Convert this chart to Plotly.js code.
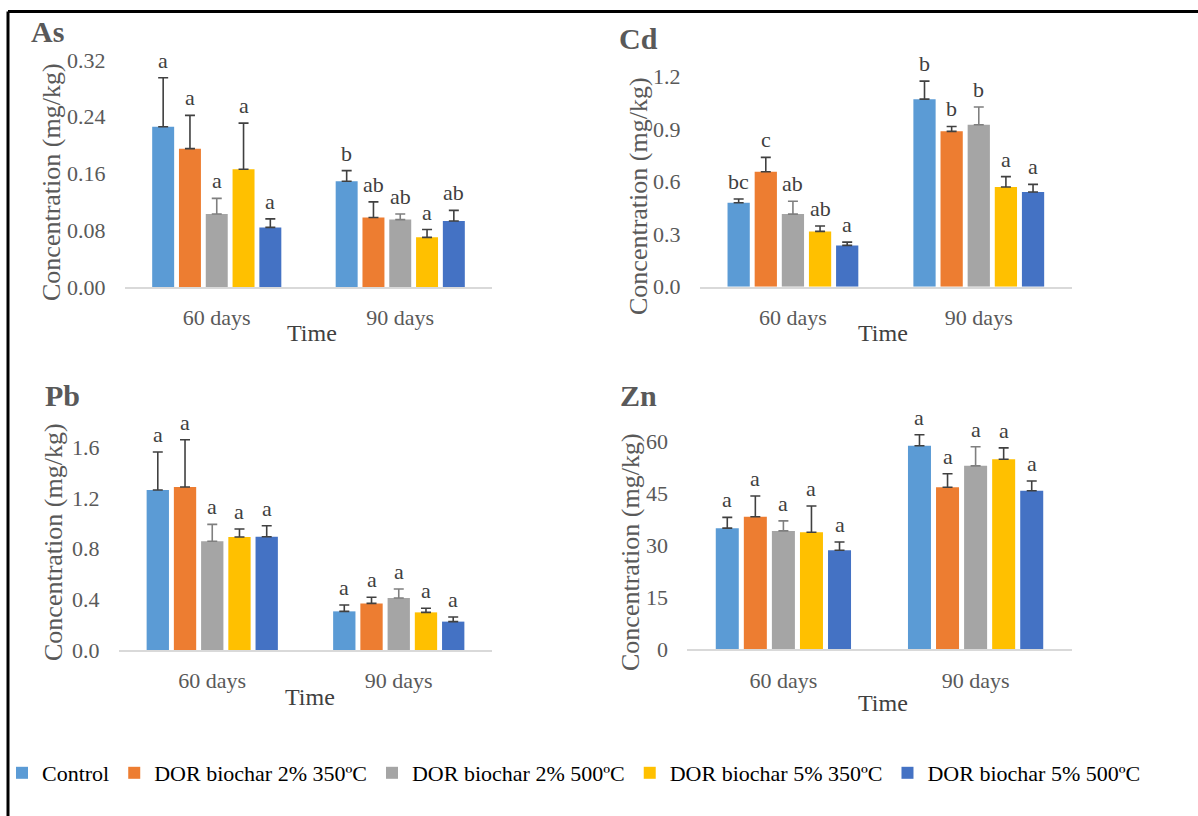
<!DOCTYPE html>
<html>
<head>
<meta charset="utf-8">
<script src="https://cdn.plot.ly/plotly-3.0.1.min.js"></script>
<style>
  html, body { margin: 0; padding: 0; background: #ffffff; }
  #chart { width: 1198px; height: 816px; }
  /* every label in this figure is set in a Times-style serif */
  #chart svg text, #chart svg tspan { font-family: "Liberation Serif", "Times New Roman", serif !important; }
</style>
</head>
<body>
<div id="chart"></div>
<script>
// Sampling times (x categories)
const times = ['60 days', '90 days'];

// Treatments (legend order)
const treatments = [
  'Control',
  'DOR biochar 2% 350ºC',
  'DOR biochar 2% 500ºC',
  'DOR biochar 5% 350ºC',
  'DOR biochar 5% 500ºC'
];
const treatmentColors = ['#5B9BD5', '#ED7D31', '#A5A5A5', '#FFC000', '#4472C4'];
const errorColors = ['#404040', '#404040', '#7F7F7F', '#404040', '#404040'];

// Mean concentration (mg/kg), one row per treatment: [60 days, 90 days]
const asMean = [[0.226, 0.149], [0.195, 0.098], [0.103, 0.095], [0.166, 0.070], [0.084, 0.093]];
const asErr  = [[0.069, 0.015], [0.047, 0.022], [0.022, 0.008], [0.065, 0.011], [0.012, 0.015]];
const asSig  = [['a', 'b'], ['a', 'ab'], ['a', 'ab'], ['a', 'a'], ['a', 'ab']];

const cdMean = [[0.480, 1.072], [0.657, 0.888], [0.415, 0.926], [0.316, 0.570], [0.236, 0.541]];
const cdErr  = [[0.021, 0.103], [0.082, 0.028], [0.073, 0.101], [0.031, 0.059], [0.019, 0.044]];
const cdSig  = [['bc', 'b'], ['c', 'b'], ['ab', 'b'], ['ab', 'a'], ['a', 'a']];

const pbMean = [[1.263, 0.305], [1.287, 0.368], [0.858, 0.410], [0.892, 0.297], [0.894, 0.224]];
const pbErr  = [[0.300, 0.050], [0.373, 0.048], [0.134, 0.071], [0.063, 0.032], [0.087, 0.037]];
const pbSig  = [['a', 'a'], ['a', 'a'], ['a', 'a'], ['a', 'a'], ['a', 'a']];

const znMean = [[35.0, 58.8], [38.3, 46.8], [34.2, 53.0], [33.8, 54.9], [28.6, 45.8]];
const znErr  = [[3.1, 3.2], [6.0, 3.9], [2.9, 5.5], [7.6, 3.3], [2.4, 2.8]];
const znSig  = [['a', 'a'], ['a', 'a'], ['a', 'a'], ['a', 'a'], ['a', 'a']];

// Y tick values per panel
const asTicks = [0, 0.08, 0.16, 0.24, 0.32];
const cdTicks = [0, 0.3, 0.6, 0.9, 1.2];
const pbTicks = [0, 0.4, 0.8, 1.2, 1.6];
const znTicks = [0, 15, 30, 45, 60];

// ---- page geometry (pixels) ----
const W = 1198, H = 816;
const FONT = 'Liberation Serif';
const GREY = '#595959';
const BARGAP = 0.27;

const panels = [
  { name: 'As', mean: asMean, err: asErr, sig: asSig, ticks: asTicks, fmt: '.2f',
    left: 125, right: 492, base: 287, top: 52.9, rmax: 0.33,
    label: [47, 32], ytitle: [51, 182], xtitle: [312, 333] },
  { name: 'Cd', mean: cdMean, err: cdErr, sig: cdSig, ticks: cdTicks, fmt: '.1f',
    left: 700, right: 1071.7, base: 286.7, top: 68, rmax: 1.25,
    label: [638, 38], ytitle: [638, 196], xtitle: [883, 333] },
  { name: 'Pb', mean: pbMean, err: pbErr, sig: pbSig, ticks: pbTicks, fmt: '.1f',
    left: 119, right: 492, base: 650, top: 428.3, rmax: 1.75,
    label: [62, 395], ytitle: [53, 542], xtitle: [310, 697] },
  { name: 'Zn', mean: znMean, err: znErr, sig: znSig, ticks: znTicks, fmt: 'd',
    left: 687.3, right: 1071.7, base: 649.3, top: 424.3, rmax: 65,
    label: [638, 395], ytitle: [630, 552], xtitle: [883, 703] }
];

const fx = px => px / W;
const fy = py => 1 - py / H;

const traces = [];
const annotations = [];
const layout = {
  width: W, height: H,
  margin: { l: 0, r: 0, t: 0, b: 0 },
  paper_bgcolor: '#ffffff',
  plot_bgcolor: 'rgba(0,0,0,0)',
  font: { family: FONT, color: GREY, size: 21 },
  barmode: 'group',
  bargap: BARGAP,
  bargroupgap: 0.18,
  showlegend: true,
  legend: {
    orientation: 'h',
    x: fx(2), xanchor: 'left',
    y: fy(773), yanchor: 'middle',
    font: { family: FONT, size: 22, color: '#000000' },
    itemwidth: 30,
    traceorder: 'normal',
    bgcolor: 'rgba(0,0,0,0)'
  },
  shapes: [
    // frame (top and left edges)
    { type: 'line', xref: 'paper', yref: 'paper', x0: fx(8), x1: 1.02, y0: fy(11.5), y1: fy(11.5),
      line: { color: '#000000', width: 3 } },
    { type: 'line', xref: 'paper', yref: 'paper', x0: fx(8), x1: fx(8), y0: fy(11.5), y1: -0.02,
      line: { color: '#000000', width: 3 } }
  ],
  annotations: annotations
};

const nT = treatments.length;
const slot = (1 - BARGAP) / nT;

panels.forEach((p, k) => {
  const sfx = k === 0 ? '' : String(k + 1);
  const xa = 'x' + sfx, ya = 'y' + sfx;

  layout['xaxis' + sfx] = {
    domain: [fx(p.left), fx(p.right)],
    anchor: ya,
    type: 'category',
    showline: true, linecolor: '#D9D9D9', linewidth: 2,
    showgrid: false, zeroline: false,
    ticks: 'outside', ticklen: 10, tickcolor: 'rgba(0,0,0,0)',
    tickfont: { family: FONT, size: 22, color: GREY },
    fixedrange: true
  };
  layout['yaxis' + sfx] = {
    domain: [fy(p.base), fy(p.top)],
    anchor: xa,
    range: [0, p.rmax],
    tickvals: p.ticks,
    tickformat: p.fmt,
    showline: false, showgrid: false, zeroline: false,
    ticks: 'outside', ticklen: 14, tickcolor: 'rgba(0,0,0,0)',
    tickfont: { family: FONT, size: 22, color: GREY },
    fixedrange: true
  };

  treatments.forEach((t, i) => {
    traces.push({
      type: 'bar',
      name: t,
      legendgroup: t,
      showlegend: k === 0,
      x: times,
      y: p.mean[i],
      xaxis: xa, yaxis: ya,
      marker: { color: treatmentColors[i], line: { width: 0 } },
      error_y: {
        type: 'data', symmetric: false,
        array: p.err[i], arrayminus: p.err[i].map(() => 0),
        color: errorColors[i], thickness: 1.6, width: 5
      },
      hoverinfo: 'skip'
    });

    // significance letters above each error bar
    times.forEach((tm, j) => {
      annotations.push({
        xref: xa, yref: ya,
        x: j - (1 - BARGAP) / 2 + (i + 0.5) * slot,
        y: p.mean[i][j] + p.err[i][j],
        text: p.sig[i][j],
        showarrow: false,
        yanchor: 'bottom', yshift: 3,
        font: { family: FONT, size: 22, color: '#404040' }
      });
    });
  });

  // panel label
  annotations.push({
    xref: 'paper', yref: 'paper',
    x: fx(p.label[0]), y: fy(p.label[1]),
    text: '<b>' + p.name + '</b>', showarrow: false,
    xanchor: 'center', yanchor: 'middle',
    font: { family: FONT, size: 30, color: GREY }
  });
  // y-axis title
  annotations.push({
    xref: 'paper', yref: 'paper',
    x: fx(p.ytitle[0]), y: fy(p.ytitle[1]),
    text: 'Concentration (mg/kg)', showarrow: false, textangle: -90,
    xanchor: 'center', yanchor: 'middle',
    font: { family: FONT, size: 26, color: GREY }
  });
  // x-axis title
  annotations.push({
    xref: 'paper', yref: 'paper',
    x: fx(p.xtitle[0]), y: fy(p.xtitle[1]),
    text: 'Time', showarrow: false,
    xanchor: 'center', yanchor: 'middle',
    font: { family: FONT, size: 24, color: '#404040' }
  });
});

Plotly.newPlot('chart', traces, layout, { displayModeBar: false, staticPlot: true });
</script>
</body>
</html>
